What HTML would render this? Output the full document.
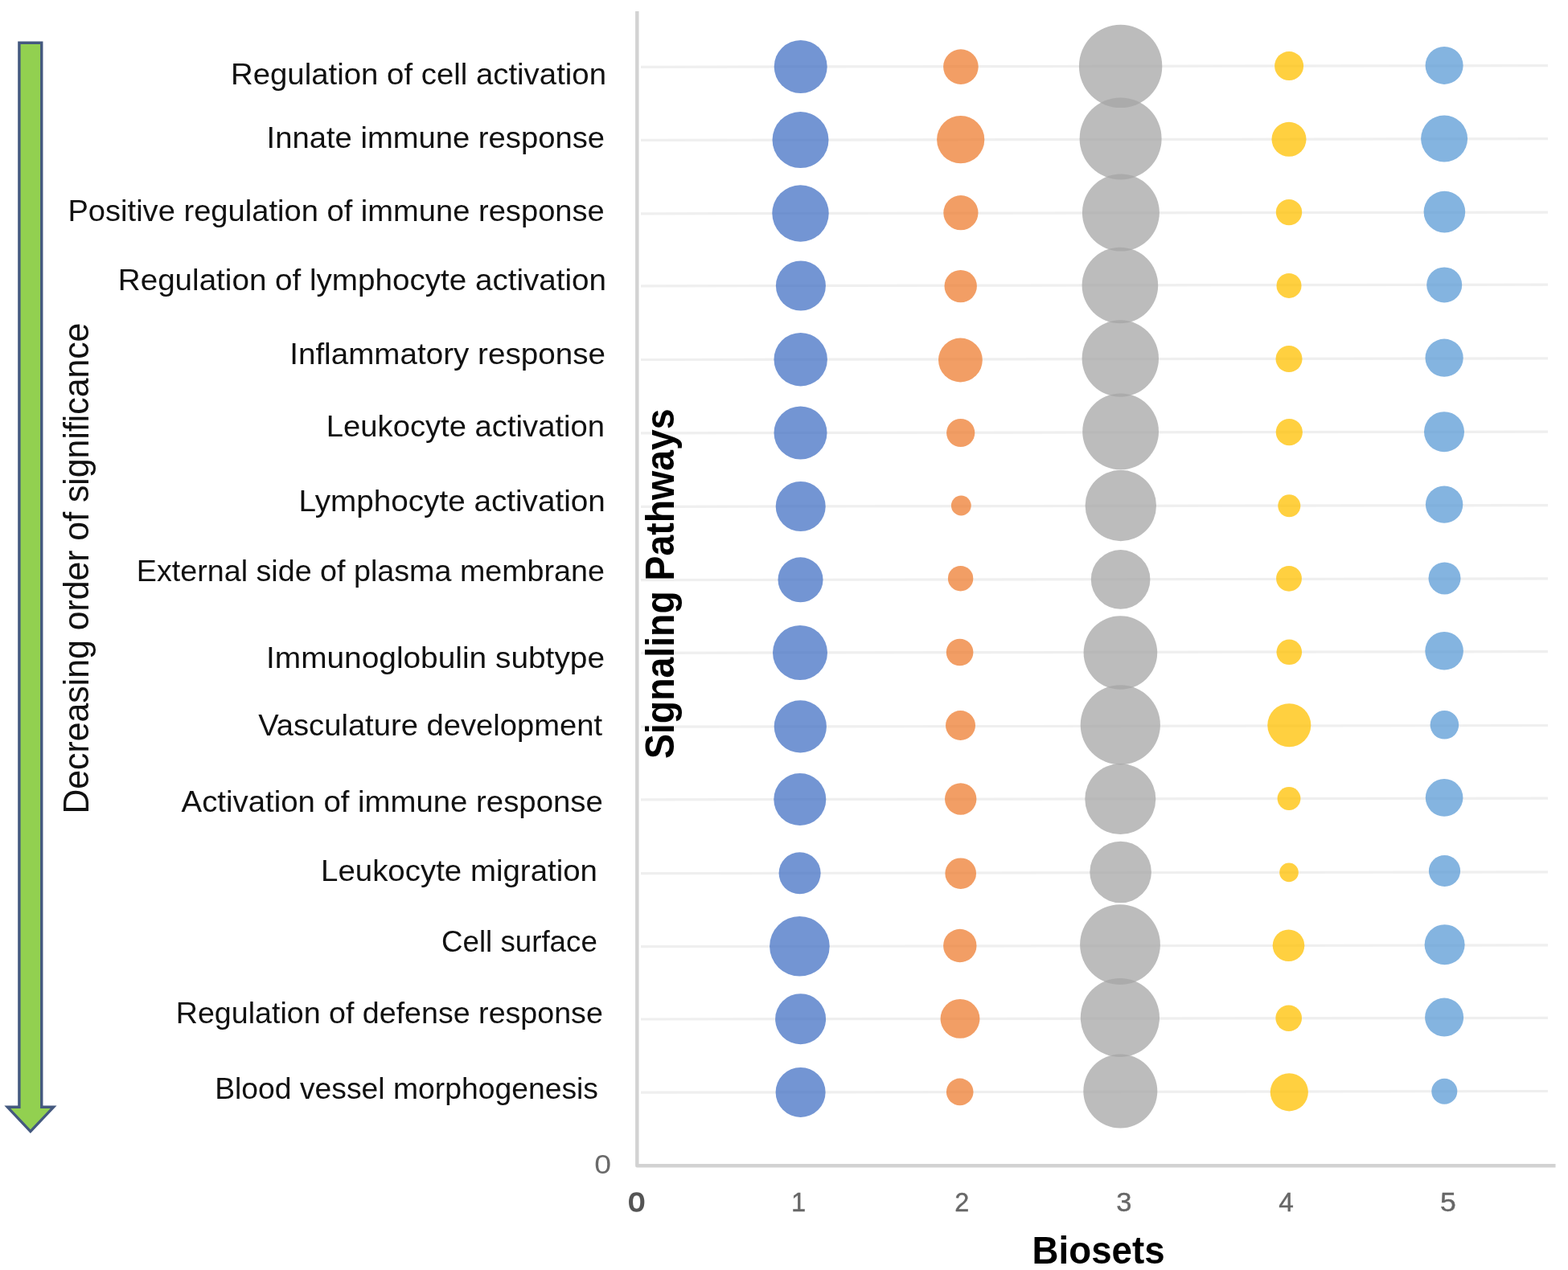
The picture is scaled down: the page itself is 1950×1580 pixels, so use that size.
<!DOCTYPE html><html><head><meta charset="utf-8"><title>Signaling pathways bubble chart</title>
<style>html,body{margin:0;padding:0;background:#fff;}body{width:1950px;height:1580px;overflow:hidden;}svg{display:block;}text{font-family:"Liberation Sans",Arial,Helvetica,sans-serif;}</style></head><body>
<svg width="1950" height="1580" viewBox="0 0 1950 1580">
<rect x="0" y="0" width="1950" height="1580" fill="#ffffff"/>
<g stroke="#efefef" stroke-width="3.2" fill="none"><line x1="797" y1="83.30" x2="1925" y2="81.61"/><line x1="797" y1="174.40" x2="1925" y2="172.71"/><line x1="797" y1="265.80" x2="1925" y2="264.11"/><line x1="797" y1="355.80" x2="1925" y2="354.11"/><line x1="797" y1="447.50" x2="1925" y2="445.81"/><line x1="797" y1="538.80" x2="1925" y2="537.11"/><line x1="797" y1="630.30" x2="1925" y2="628.61"/><line x1="797" y1="721.60" x2="1925" y2="719.91"/><line x1="797" y1="812.30" x2="1925" y2="810.61"/><line x1="797" y1="904.20" x2="1925" y2="902.51"/><line x1="797" y1="994.80" x2="1925" y2="993.11"/><line x1="797" y1="1086.60" x2="1925" y2="1084.91"/><line x1="797" y1="1177.60" x2="1925" y2="1175.91"/><line x1="797" y1="1268.00" x2="1925" y2="1266.31"/><line x1="797" y1="1359.20" x2="1925" y2="1357.51"/></g>
<path d="M792.3 14 L792.3 1450.2 L1934.5 1450.2" fill="none" stroke="#d2d2d2" stroke-width="4.4" stroke-linejoin="round"/>
<g fill="#4472C4" fill-opacity="0.75"><circle cx="995.7" cy="83.0" r="33.0"/><circle cx="995.5" cy="174.1" r="35.0"/><circle cx="995.5" cy="265.5" r="35.2"/><circle cx="995.9" cy="355.5" r="31.0"/><circle cx="995.7" cy="447.2" r="33.2"/><circle cx="995.5" cy="538.5" r="33.0"/><circle cx="995.7" cy="630.0" r="31.0"/><circle cx="995.5" cy="721.3" r="28.0"/><circle cx="995.0" cy="812.0" r="34.0"/><circle cx="995.3" cy="903.9" r="32.6"/><circle cx="994.8" cy="994.5" r="32.5"/><circle cx="994.6" cy="1086.3" r="26.0"/><circle cx="994.4" cy="1177.3" r="37.3"/><circle cx="995.6" cy="1267.7" r="31.5"/><circle cx="995.6" cy="1358.9" r="31.0"/></g>
<g fill="#ED7D31" fill-opacity="0.75"><circle cx="1194.9" cy="83.1" r="21.8"/><circle cx="1194.7" cy="173.7" r="29.6"/><circle cx="1194.9" cy="264.7" r="21.6"/><circle cx="1194.7" cy="356.1" r="20.2"/><circle cx="1194.4" cy="448.0" r="27.4"/><circle cx="1194.7" cy="538.5" r="17.6"/><circle cx="1195.3" cy="629.0" r="12.4"/><circle cx="1194.6" cy="719.7" r="15.7"/><circle cx="1193.6" cy="811.5" r="16.8"/><circle cx="1194.5" cy="902.5" r="18.5"/><circle cx="1194.7" cy="994.0" r="19.7"/><circle cx="1194.7" cy="1086.7" r="19.3"/><circle cx="1193.8" cy="1176.5" r="20.7"/><circle cx="1194.0" cy="1267.4" r="24.4"/><circle cx="1193.7" cy="1358.4" r="16.8"/></g>
<g fill="#A5A5A5" fill-opacity="0.75"><circle cx="1393.6" cy="82.4" r="51.7"/><circle cx="1393.6" cy="172.4" r="51.0"/><circle cx="1393.9" cy="264.6" r="48.0"/><circle cx="1392.9" cy="355.0" r="47.3"/><circle cx="1393.3" cy="446.0" r="47.7"/><circle cx="1393.6" cy="536.9" r="47.4"/><circle cx="1393.8" cy="629.0" r="44.2"/><circle cx="1393.6" cy="720.9" r="36.8"/><circle cx="1393.4" cy="812.0" r="45.8"/><circle cx="1393.3" cy="901.8" r="49.6"/><circle cx="1393.3" cy="994.1" r="44.0"/><circle cx="1393.6" cy="1085.0" r="38.3"/><circle cx="1393.0" cy="1175.1" r="49.9"/><circle cx="1392.9" cy="1266.0" r="49.1"/><circle cx="1393.3" cy="1357.5" r="46.0"/></g>
<g fill="#FFC000" fill-opacity="0.75"><circle cx="1603.1" cy="82.1" r="18.0"/><circle cx="1603.0" cy="173.3" r="21.5"/><circle cx="1603.0" cy="264.1" r="16.2"/><circle cx="1603.0" cy="355.4" r="15.5"/><circle cx="1603.0" cy="446.5" r="16.5"/><circle cx="1603.3" cy="537.6" r="16.6"/><circle cx="1603.3" cy="629.3" r="14.0"/><circle cx="1603.0" cy="719.8" r="15.9"/><circle cx="1603.3" cy="811.3" r="15.8"/><circle cx="1603.3" cy="902.2" r="27.0"/><circle cx="1603.0" cy="993.5" r="14.4"/><circle cx="1603.0" cy="1085.4" r="11.8"/><circle cx="1602.5" cy="1176.3" r="19.8"/><circle cx="1602.7" cy="1266.8" r="16.3"/><circle cx="1603.3" cy="1358.8" r="23.6"/></g>
<g fill="#5B9BD5" fill-opacity="0.75"><circle cx="1796.1" cy="81.4" r="23.5"/><circle cx="1796.1" cy="172.5" r="29.0"/><circle cx="1796.4" cy="263.6" r="25.8"/><circle cx="1796.2" cy="354.4" r="22.0"/><circle cx="1796.1" cy="445.2" r="23.6"/><circle cx="1796.0" cy="537.2" r="25.0"/><circle cx="1796.1" cy="627.6" r="23.2"/><circle cx="1796.5" cy="719.4" r="20.0"/><circle cx="1796.1" cy="809.8" r="23.8"/><circle cx="1796.4" cy="901.8" r="17.8"/><circle cx="1796.1" cy="992.4" r="23.3"/><circle cx="1796.5" cy="1083.5" r="19.6"/><circle cx="1796.6" cy="1175.2" r="25.0"/><circle cx="1796.1" cy="1265.6" r="24.0"/><circle cx="1796.3" cy="1357.8" r="16.0"/></g>
<path d="M23.9 53.3 L51.75 53.3 L51.75 1377.3 L66.6 1377.3 L37.9 1407.6 L9.3 1377.3 L23.9 1377.3 Z" fill="#92D050" stroke="#44597F" stroke-width="3.4" stroke-linejoin="miter"/>
<text id="l0" x="287.00" y="105.30" font-size="36.5" font-weight="400" fill="#111111" textLength="467.00" lengthAdjust="spacingAndGlyphs">Regulation of cell activation</text>
<text id="l1" x="331.60" y="184.40" font-size="36.5" font-weight="400" fill="#111111" textLength="420.40" lengthAdjust="spacingAndGlyphs">Innate immune response</text>
<text id="l2" x="84.40" y="274.90" font-size="36.5" font-weight="400" fill="#111111" textLength="667.40" lengthAdjust="spacingAndGlyphs">Positive regulation of immune response</text>
<text id="l3" x="146.80" y="361.00" font-size="36.5" font-weight="400" fill="#111111" textLength="607.20" lengthAdjust="spacingAndGlyphs">Regulation of lymphocyte activation</text>
<text id="l4" x="360.20" y="453.00" font-size="36.5" font-weight="400" fill="#111111" textLength="392.80" lengthAdjust="spacingAndGlyphs">Inflammatory response</text>
<text id="l5" x="405.80" y="542.80" font-size="36.5" font-weight="400" fill="#111111" textLength="346.20" lengthAdjust="spacingAndGlyphs">Leukocyte activation</text>
<text id="l6" x="371.60" y="636.00" font-size="36.5" font-weight="400" fill="#111111" textLength="381.20" lengthAdjust="spacingAndGlyphs">Lymphocyte activation</text>
<text id="l7" x="169.80" y="722.60" font-size="36.5" font-weight="400" fill="#111111" textLength="582.20" lengthAdjust="spacingAndGlyphs">External side of plasma membrane</text>
<text id="l8" x="331.00" y="831.00" font-size="36.5" font-weight="400" fill="#111111" textLength="421.00" lengthAdjust="spacingAndGlyphs">Immunoglobulin subtype</text>
<text id="l9" x="321.20" y="914.60" font-size="36.5" font-weight="400" fill="#111111" textLength="427.80" lengthAdjust="spacingAndGlyphs">Vasculature development</text>
<text id="l10" x="225.60" y="1010.20" font-size="36.5" font-weight="400" fill="#111111" textLength="524.20" lengthAdjust="spacingAndGlyphs">Activation of immune response</text>
<text id="l11" x="399.00" y="1095.70" font-size="36.5" font-weight="400" fill="#111111" textLength="344.00" lengthAdjust="spacingAndGlyphs">Leukocyte migration</text>
<text id="l12" x="549.00" y="1183.80" font-size="36.5" font-weight="400" fill="#111111" textLength="193.80" lengthAdjust="spacingAndGlyphs">Cell surface</text>
<text id="l13" x="218.80" y="1273.00" font-size="36.5" font-weight="400" fill="#111111" textLength="531.00" lengthAdjust="spacingAndGlyphs">Regulation of defense response</text>
<text id="l14" x="267.20" y="1367.40" font-size="36.5" font-weight="400" fill="#111111" textLength="476.80" lengthAdjust="spacingAndGlyphs">Blood vessel morphogenesis</text>
<text id="vdec" transform="translate(109.60,1012.60) rotate(-90)" x="0" y="0" font-size="44" font-weight="400" fill="#111111" textLength="611.00" lengthAdjust="spacingAndGlyphs">Decreasing order of significance</text>
<text id="vsig" transform="translate(837.60,944.00) rotate(-90)" x="0" y="0" font-size="50.6" font-weight="700" fill="#000000" textLength="435.60" lengthAdjust="spacingAndGlyphs">Signaling Pathways</text>
<text id="bios" x="1283.60" y="1571.50" font-size="49" font-weight="700" fill="#000000" textLength="165.00" lengthAdjust="spacingAndGlyphs">Biosets</text>
<text id="y0" x="739.20" y="1460.00" font-size="33.5" font-weight="400" fill="#6a6a6a" textLength="20.80" lengthAdjust="spacingAndGlyphs">0</text>
<text id="x0" x="781.40" y="1507.00" font-size="33.5" font-weight="400" fill="#555555" stroke="#555555" stroke-width="1.6" textLength="20.40" lengthAdjust="spacingAndGlyphs">0</text>
<text id="x1" x="984.00" y="1507.00" font-size="33.5" font-weight="400" fill="#676767" stroke="#676767" stroke-width="0.4" textLength="18.20" lengthAdjust="spacingAndGlyphs">1</text>
<text id="x2" x="1187.20" y="1507.00" font-size="33.5" font-weight="400" fill="#676767" stroke="#676767" stroke-width="0.4" textLength="18.00" lengthAdjust="spacingAndGlyphs">2</text>
<text id="x3" x="1388.20" y="1507.00" font-size="33.5" font-weight="400" fill="#676767" stroke="#676767" stroke-width="0.4" textLength="19.20" lengthAdjust="spacingAndGlyphs">3</text>
<text id="x4" x="1590.20" y="1507.00" font-size="33.5" font-weight="400" fill="#676767" stroke="#676767" stroke-width="0.4" textLength="18.60" lengthAdjust="spacingAndGlyphs">4</text>
<text id="x5" x="1791.00" y="1507.00" font-size="33.5" font-weight="400" fill="#676767" stroke="#676767" stroke-width="0.4" textLength="19.80" lengthAdjust="spacingAndGlyphs">5</text>
</svg></body></html>
